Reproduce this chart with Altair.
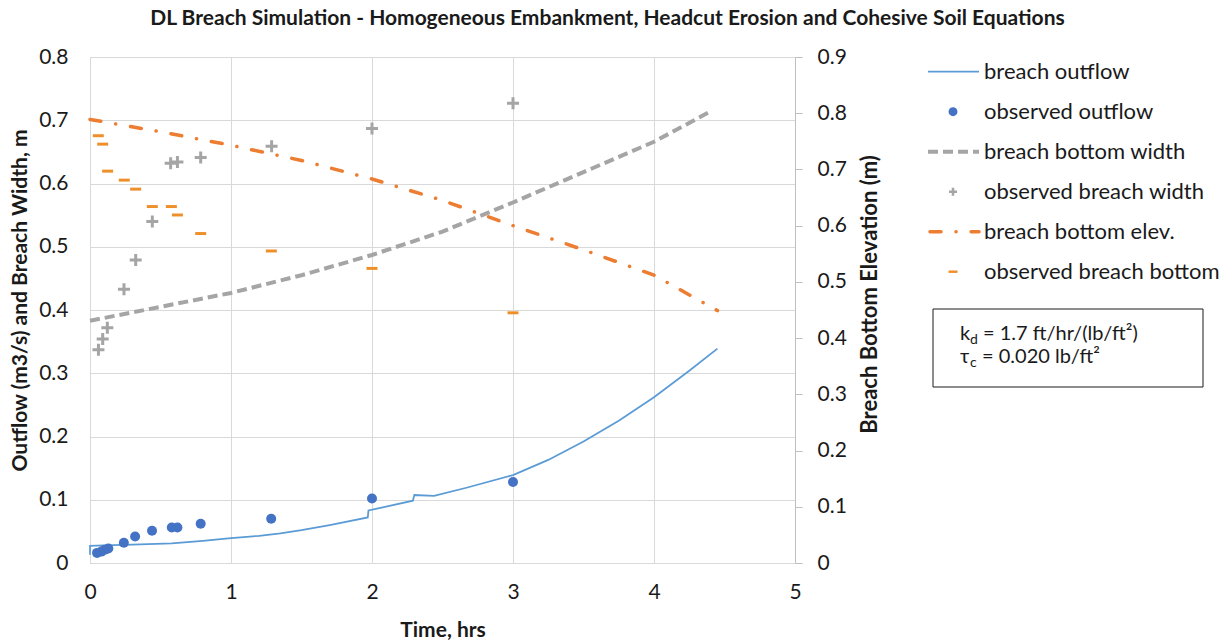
import altair as alt
import pandas as pd

FONT = "Lato"

# ---- data ----
# modelled breach outflow (m3/s), left axis
flow_t = [0.0, 0.0, 0.1, 0.3, 0.58, 0.8, 1.0, 1.2, 1.35, 1.5, 1.7, 1.97, 1.975, 2.1, 2.29, 2.3, 2.44, 2.67, 3.0, 3.25, 3.5, 3.75, 4.0, 4.25, 4.45]
flow_q = [0.013, 0.027, 0.028, 0.029, 0.031, 0.035, 0.0395, 0.043, 0.047, 0.052, 0.060, 0.072, 0.083, 0.089, 0.0985, 0.1075, 0.106, 0.119, 0.139, 0.163, 0.192, 0.225, 0.262, 0.304, 0.339]

# observed outflow (m3/s), left axis
obs_q_t = [0.05, 0.08, 0.105, 0.13, 0.24, 0.32, 0.44, 0.58, 0.62, 0.785, 1.285, 2.0, 3.0]
obs_q = [0.016, 0.018, 0.021, 0.023, 0.032, 0.042, 0.051, 0.056, 0.056, 0.062, 0.070, 0.102, 0.128]

# modelled breach bottom width (m), left axis
width_t = [0.0, 0.5, 1.0, 1.5, 2.0, 2.5, 3.0, 3.5, 4.0, 4.41]
width_m = [0.383, 0.405, 0.427, 0.455, 0.487, 0.524, 0.570, 0.618, 0.666, 0.715]

# observed breach width (m), left axis
obs_w_t = [0.06, 0.09, 0.123, 0.241, 0.324, 0.442, 0.572, 0.62, 0.785, 1.288, 2.0, 3.0]
obs_w = [0.337, 0.354, 0.372, 0.433, 0.479, 0.540, 0.632, 0.634, 0.641, 0.659, 0.687, 0.727]

# modelled breach bottom elevation (m), right axis
elev_t = [0.0, 0.5, 1.0, 1.5, 2.0, 2.5, 3.0, 3.5, 4.0, 4.45]
elev_m = [0.789, 0.767, 0.743, 0.716, 0.683, 0.645, 0.600, 0.557, 0.512, 0.449]

# observed breach bottom elevation (m), right axis
obs_e_t = [0.059, 0.09, 0.125, 0.243, 0.324, 0.442, 0.577, 0.62, 0.785, 1.286, 2.0, 3.0]
obs_e = [0.760, 0.745, 0.697, 0.681, 0.665, 0.634, 0.634, 0.619, 0.586, 0.555, 0.524, 0.445]

legend_labels = ["breach outflow", "observed outflow", "breach bottom width",
                 "observed breach width", "breach bottom elev.", "observed breach bottom"]

x_ticks = [0, 1, 2, 3, 4, 5]
left_ticks = [0, 0.1, 0.2, 0.3, 0.4, 0.5, 0.6, 0.7, 0.8]
right_ticks = [0, 0.1, 0.2, 0.3, 0.4, 0.5, 0.6, 0.7, 0.8, 0.9]

title_text = "DL Breach Simulation - Homogeneous Embankment, Headcut Erosion and Cohesive Soil Equations"

# ---- colours ----
C_FLOW = "#5B9BD5"
C_OBSQ = "#4472C4"
C_GRAY = "#A5A5A5"
C_ELEV = "#ED7D31"
C_OBSE = "#EE8F2A"
C_TEXT = "#1a1a1a"

W, H = 705, 506

flow_df = pd.DataFrame({"t": flow_t, "v": flow_q, "i": range(len(flow_t))})
obsq_df = pd.DataFrame({"t": obs_q_t, "v": obs_q})
width_df = pd.DataFrame({"t": width_t, "v": width_m})
obsw_df = pd.DataFrame({"t": obs_w_t, "v": obs_w})
elev_df = pd.DataFrame({"t": elev_t, "v": elev_m})
obse_df = pd.DataFrame({"t": obs_e_t, "v": obs_e})

x_enc = alt.X(
    "t:Q",
    scale=alt.Scale(domain=[0, 5], nice=False, zero=False),
    axis=alt.Axis(
        values=x_ticks, format="d", grid=True, gridColor="#D9D9D9", ticks=False,
        domainColor="#D9D9D9", labelFontSize=21, labelFont=FONT, labelColor=C_TEXT,
        labelPadding=18, labelFlush=False, title="Time, hrs", titleFont=FONT,
        titleFontSize=21, titleFontWeight="bold", titleColor=C_TEXT, titleY=67,
        titleBaseline="middle",
    ),
)

left_axis = alt.Axis(
    orient="left", values=left_ticks, format="~g", grid=True, gridColor="#D9D9D9",
    ticks=False, domainColor="#D9D9D9", labelFontSize=21, labelFont=FONT,
    labelColor=C_TEXT, labelPadding=22, labelFlush=False,
    title="Outflow (m3/s) and Breach Width, m", titleFont=FONT, titleFontSize=21,
    titleFontWeight="bold", titleColor=C_TEXT, titleX=-70, titleY=243,
    titleBaseline="middle", titleAlign="center",
)
right_axis = alt.Axis(
    orient="right", values=right_ticks, format="~g", grid=False, ticks=True,
    tickColor="#BFBFBF", tickSize=7, domainColor="#BFBFBF", labelFontSize=21,
    labelFont=FONT, labelColor=C_TEXT, labelPadding=15, labelFlush=False,
    title="Breach Bottom Elevation (m)", titleFont=FONT, titleFontSize=22,
    titleFontWeight="bold", titleColor=C_TEXT, titleAngle=270, titleX=74,
    titleY=237, titleBaseline="middle", titleAlign="center",
)

y_left = lambda: alt.Y("v:Q", scale=alt.Scale(domain=[0, 0.8], nice=False), axis=left_axis)
y_right = lambda: alt.Y("v:Q", scale=alt.Scale(domain=[0, 0.9], nice=False), axis=right_axis)

flow_line = alt.Chart(flow_df).mark_line(color=C_FLOW, strokeWidth=1.75).encode(
    x=x_enc, y=y_left(), order="i:Q")
obsq_pts = alt.Chart(obsq_df).mark_circle(color=C_OBSQ, size=100, opacity=1).encode(
    x=x_enc, y=y_left())
width_line = alt.Chart(width_df).mark_line(color=C_GRAY, strokeWidth=4, strokeDash=[10, 5]).encode(
    x=x_enc, y=y_left())
PLUS = "M-1,0H1M0,-1V1"
obsw_pts = alt.Chart(obsw_df).mark_point(shape=PLUS, size=144, filled=False, color=C_GRAY,
                                         strokeWidth=3, opacity=1).encode(x=x_enc, y=y_left())
left = alt.layer(flow_line, obsq_pts, width_line, obsw_pts)

elev_line = alt.Chart(elev_df).mark_line(color=C_ELEV, strokeWidth=3.5, strokeDash=[11, 15, 0.1, 15],
                                         strokeCap="round").encode(x=x_enc, y=y_right())
DASH = "M-1,-0.27H1V0.27H-1Z"
obse_pts = alt.Chart(obse_df).mark_point(shape=DASH, size=121, filled=True, color=C_OBSE,
                                         opacity=1, strokeWidth=0).encode(x=x_enc, y=y_right())
right = alt.layer(elev_line, obse_pts)

plot = alt.layer(left, right).resolve_scale(y="independent")

# ---- manual legend ----
leg_df = pd.DataFrame({"label": legend_labels})
rows = [14.7, 54.7, 94.7, 134.7, 174.7, 214.7]
LX1, LX2, LMID, LTX = 838, 889, 863, 894


def one(i):
    return alt.Chart(leg_df.iloc[[i]])


leg = [
    one(0).mark_rule(color=C_FLOW, strokeWidth=1.75).encode(
        x=alt.value(LX1), x2=alt.value(LX2), y=alt.value(rows[0])),
    one(1).mark_circle(color=C_OBSQ, size=80, opacity=1).encode(
        x=alt.value(LMID), y=alt.value(rows[1])),
    one(2).mark_rule(color=C_GRAY, strokeWidth=4, strokeDash=[10, 5]).encode(
        x=alt.value(LX1), x2=alt.value(LX2), y=alt.value(rows[2])),
    one(3).mark_point(shape=PLUS, size=64, filled=False, color=C_GRAY, strokeWidth=2.5,
                      opacity=1).encode(x=alt.value(LMID), y=alt.value(rows[3])),
    one(4).mark_rule(color=C_ELEV, strokeWidth=3.5, strokeDash=[11, 15, 0.1, 15],
                     strokeCap="round").encode(
        x=alt.value(LX1 + 2), x2=alt.value(LX2), y=alt.value(rows[4])),
    one(5).mark_point(shape=DASH, size=81, filled=True, color=C_OBSE, strokeWidth=0,
                      opacity=1).encode(x=alt.value(LMID), y=alt.value(rows[5])),
]
for i in range(6):
    leg.append(one(i).mark_text(align="left", baseline="middle", font=FONT, fontSize=22,
                                color=C_TEXT).encode(
        x=alt.value(LTX), y=alt.value(rows[i]), text="label:N"))

# ---- annotation box ----
box_df = pd.DataFrame({"k": [0]})
box = alt.Chart(box_df).mark_rect(fill="white", stroke=C_TEXT, strokeWidth=1).encode(
    x=alt.value(843), x2=alt.value(1113), y=alt.value(252), y2=alt.value(330))


def txt(s, x, y, size=20):
    return alt.Chart(pd.DataFrame({"s": [s]})).mark_text(
        align="left", baseline="alphabetic", font=FONT, fontSize=size, color=C_TEXT
    ).encode(x=alt.value(x), y=alt.value(y), text="s:N")


notes = [
    txt("k", 870, 283), txt("d", 880, 287, 14), txt("= 1.7 ft/hr/(lb/ft²)", 893, 283),
    txt("τ", 870, 306), txt("c", 880, 310, 14), txt("= 0.020 lb/ft²", 892, 306),
]

chart = alt.layer(plot, *leg, box, *notes).properties(
    width=W, height=H,
    padding={"left": 90, "top": 57, "right": 434, "bottom": 78},
    autosize=alt.AutoSizeParams(type="none"),
    title=alt.Title(title_text, font=FONT, fontSize=21, fontWeight="bold", color=C_TEXT,
                    anchor="middle", frame="group", dx=165, offset=17),
).configure_view(strokeWidth=0).configure(background="white")

chart.save("out.html", embed_options={"renderer": "svg", "actions": False})
